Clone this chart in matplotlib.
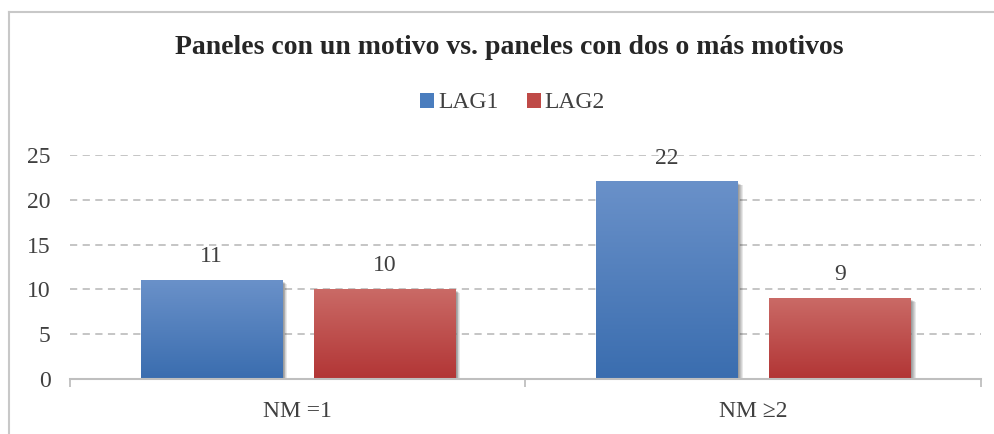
import numpy as np
import matplotlib
matplotlib.use("Agg")
import matplotlib.pyplot as plt
import matplotlib.transforms as mtransforms
from matplotlib.patches import Rectangle, Patch
from matplotlib.colors import LinearSegmentedColormap
from matplotlib.lines import Line2D

plt.rcParams['font.family'] = ['Liberation Serif', 'DejaVu Serif']

# data
categories = ['NM =1', 'NM \u22652']
series_names = ['LAG1', 'LAG2']
lag1 = [11, 22]
lag2 = [10, 9]
yticks = [0, 5, 10, 15, 20, 25]

# gradient colours (top -> bottom)
blue_top, blue_bot = '#6A91C9', '#3A6DAF'
red_top, red_bot = '#CA6A66', '#B23535'

fig = plt.figure(figsize=(9.95, 4.34), dpi=100)
ax = fig.add_axes([70/995, 1-379/434, 911/995, 224/434])

bar_w = 0.31
offset = 0.19
x = np.arange(len(categories))


def gradient_bar(xc, h, c_top, c_bot):
    x0 = xc - bar_w/2
    # soft shadow
    for k in range(1, 7):
        tr = ax.transData + mtransforms.ScaledTranslation(k*0.009, -k*0.006, fig.dpi_scale_trans)
        ax.add_patch(Rectangle((x0, 0), bar_w, h, transform=tr, facecolor='black',
                               edgecolor='none', alpha=0.09, zorder=2))
    cmap = LinearSegmentedColormap.from_list('g', [c_bot, c_top])
    grad = np.linspace(0, 1, 256).reshape(-1, 1)
    ax.imshow(grad, cmap=cmap, origin='lower', aspect='auto',
              extent=[x0, x0 + bar_w, 0, h], zorder=3)


for xi, v in zip(x, lag1):
    gradient_bar(xi - offset, v, blue_top, blue_bot)
    ax.annotate(str(v), (xi - offset, v), xytext=(0, 17), textcoords='offset points',
                ha='center', va='center', fontsize=17, color='#404040')
for xi, v in zip(x, lag2):
    gradient_bar(xi + offset, v, red_top, red_bot)
    ax.annotate(str(v), (xi + offset, v), xytext=(0, 17), textcoords='offset points',
                ha='center', va='center', fontsize=17, color='#404040')

ax.set_xlim(-0.5, 1.5)
ax.set_ylim(0, 25)
ax.set_yticks(yticks)
ax.set_xticks(x)
ax.set_xticklabels(categories)
ax.set_xticks([-0.5, 0.5, 1.5], minor=True)
ax.tick_params(axis='x', which='major', length=0, pad=16, labelsize=17, labelcolor='#404040')
ax.tick_params(axis='x', which='minor', length=6, width=1.3, color='#BFBFBF', direction='out')
ax.tick_params(axis='y', length=0, pad=14, labelsize=17, labelcolor='#404040')
ax.grid(axis='y', color='#C0C0C0', linestyle=(0, (4, 3)), linewidth=1.3, zorder=0)
ax.set_axisbelow(True)
for s in ['left', 'right', 'top']:
    ax.spines[s].set_visible(False)
ax.spines['bottom'].set_color('#BFBFBF')
ax.spines['bottom'].set_linewidth(1.5)
ax.spines['bottom'].set_zorder(4)

fig.text(0.512, 1-47/434, 'Paneles con un motivo vs. paneles con dos o más motivos',
         ha='center', va='center', fontsize=20, fontweight='bold', color='#262626')

handles = [Patch(facecolor='#4A7DBE', edgecolor='none'), Patch(facecolor='#BF4A47', edgecolor='none')]
fig.legend(handles, series_names, loc='center', bbox_to_anchor=(0.515, 1-103/434), ncol=2,
           frameon=False, fontsize=17, handlelength=0.6, handleheight=0.6,
           handletextpad=0.15, columnspacing=1.2, labelcolor='#404040')

# outer chart border (left and top edges visible)
fig.add_artist(Line2D([9/995, 9/995], [0, 1-12/434], transform=fig.transFigure,
                      color='#C8C8C8', linewidth=1.5))
fig.add_artist(Line2D([9/995, 1], [1-12/434, 1-12/434], transform=fig.transFigure,
                      color='#C8C8C8', linewidth=1.5))

fig.savefig('out.png', dpi=100)
